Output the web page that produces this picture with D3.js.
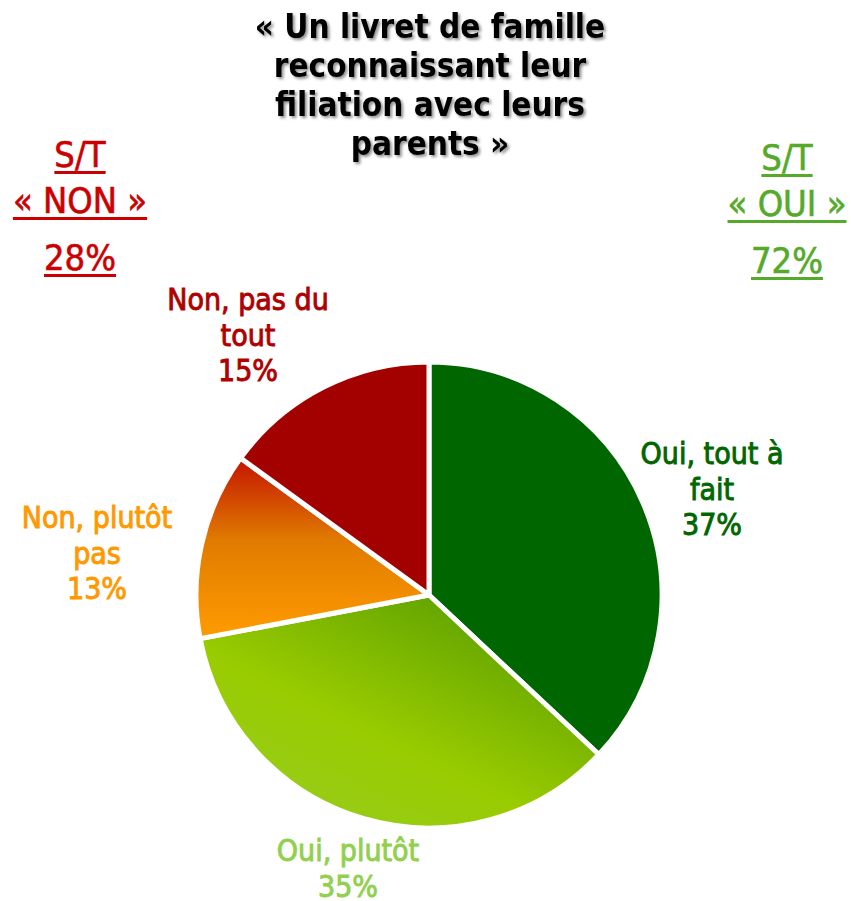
<html>
    <head>
        <meta charset="utf-8">
        <script src="https://d3js.org/d3.v7.min.js"></script>
        <style type="text/css">
            body {
                background: #fff;
                margin: 0;
            }
            svg text {
                font-family: "DejaVu Sans Condensed", "DejaVu Sans", sans-serif;
                font-stretch: condensed;
                text-anchor: middle;
            }
        </style>
    </head>
    <body>
        <svg id="chart" width="851" height="901" xmlns="http://www.w3.org/2000/svg"></svg>
        <script type="text/javascript">

        // answers, clockwise from 12 o'clock
        const categories = ["Oui, tout à fait", "Oui, plutôt", "Non, plutôt pas", "Non, pas du tout"];
        const values = [37, 35, 13, 15];
        const labelLines = [["Oui, tout à", "fait"], ["Oui, plutôt"], ["Non, plutôt", "pas"], ["Non, pas du", "tout"]];
        const titleLines = ["« Un livret de famille", "reconnaissant leur", "filiation avec leurs", "parents »"];
        const totals = [
            { lines: ["S/T", "« NON »"], value: 28 },
            { lines: ["S/T", "« OUI »"], value: 72 }
        ];

        const svg = d3.select("#chart");
        const defs = svg.append("defs");

        const cx = 429, cy = 595, R = 233;

        // gradients
        const gOrange = defs.append("linearGradient").attr("id", "gOrange")
            .attr("x1", 0).attr("y1", 0).attr("x2", 0).attr("y2", 1);
        gOrange.append("stop").attr("offset", 0).attr("stop-color", "#c41400");
        gOrange.append("stop").attr("offset", 0.45).attr("stop-color", "#e07a00");
        gOrange.append("stop").attr("offset", 1).attr("stop-color", "#ff9c00");

        const gGreen = defs.append("linearGradient").attr("id", "gGreen")
            .attr("x1", 0.95).attr("y1", 0).attr("x2", 0.1).attr("y2", 1);
        gGreen.append("stop").attr("offset", 0).attr("stop-color", "#4e9400");
        gGreen.append("stop").attr("offset", 0.6).attr("stop-color", "#99cc00");
        gGreen.append("stop").attr("offset", 1).attr("stop-color", "#96cc22");

        const shadow = defs.append("filter").attr("id", "shadow")
            .attr("x", "-10%").attr("y", "-20%").attr("width", "120%").attr("height", "150%");
        shadow.append("feDropShadow").attr("dx", 2).attr("dy", 2)
            .attr("stdDeviation", 1.5).attr("flood-color", "#000").attr("flood-opacity", 0.45);

        const fills = ["#006600", "url(#gGreen)", "url(#gOrange)", "#a30000"];
        const labelColors = ["#006600", "#92d050", "#ff9900", "#b00000"];
        // label anchor (centre x, first baseline y)
        const labelPos = [[712, 464], [348, 861], [97, 528], [248, 310]];

        const pie = d3.pie().sort(null).value(d => d);
        const arc = d3.arc().innerRadius(0).outerRadius(R);

        const g = svg.append("g").attr("transform", `translate(${cx},${cy})`);
        g.selectAll("path")
            .data(pie(values))
            .join("path")
            .attr("d", arc)
            .attr("fill", (d, i) => fills[i])
            .attr("stroke", "#fff")
            .attr("stroke-width", 5)
            .attr("stroke-linejoin", "round");

        // slice labels
        categories.forEach((c, i) => {
            const t = svg.append("text")
                .attr("x", labelPos[i][0])
                .attr("y", labelPos[i][1])
                .attr("fill", labelColors[i])
                .attr("stroke", labelColors[i])
                .attr("stroke-width", 0.9)
                .style("font-size", "30px");
            labelLines[i].concat([values[i] + "%"]).forEach((line, j) => {
                t.append("tspan").attr("x", labelPos[i][0]).attr("dy", j ? 35.5 : 0).text(line);
            });
        });

        // title
        const title = svg.append("text")
            .attr("x", 430).attr("y", 38)
            .attr("fill", "#000")
            .attr("filter", "url(#shadow)")
            .style("font-size", "33px")
            .style("font-weight", "bold");
        titleLines.forEach((line, j) => {
            title.append("tspan").attr("x", 430).attr("dy", j ? 39 : 0).text(line);
        });

        // S/T totals
        const totalPos = [[80, 167], [787, 170]];
        const totalColors = ["#cc0000", "#55aa2a"];
        totals.forEach((d, i) => {
            const lines = d.lines.concat([d.value + "%"]);
            const ys = [0, 46, 103];
            lines.forEach((line, j) => {
                const t = svg.append("text")
                    .attr("x", totalPos[i][0])
                    .attr("y", totalPos[i][1] + ys[j])
                    .attr("fill", totalColors[i])
                    .attr("stroke", totalColors[i])
                    .attr("stroke-width", 0.6)
                    .style("font-size", "36px")
                    .text(line);
                const w = t.node().getComputedTextLength();
                svg.append("rect")
                    .attr("x", totalPos[i][0] - w / 2)
                    .attr("y", totalPos[i][1] + ys[j] + 4)
                    .attr("width", w)
                    .attr("height", 3)
                    .attr("fill", totalColors[i]);
            });
        });
        </script>
    </body>
</html>
